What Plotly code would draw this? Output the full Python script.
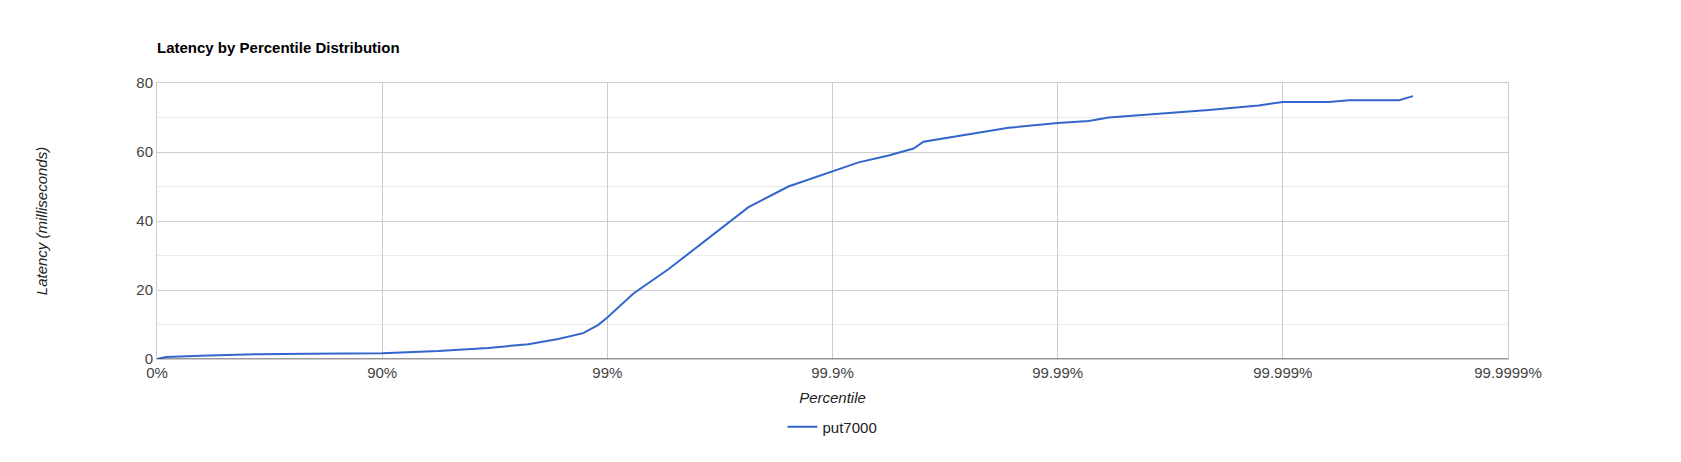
import plotly.graph_objects as go

# x in "nines" (log10(1/(1-p))), y latency ms
nines = [0.0, 0.04, 0.227, 0.449, 0.671, 1.0, 1.249, 1.471, 1.649, 1.782, 1.893, 1.96, 2.0,
         2.116, 2.271, 2.449, 2.627, 2.804, 3.0, 3.116, 3.249, 3.36, 3.404, 3.604, 3.782,
         4.0, 4.138, 4.227, 4.449, 4.671, 4.893, 5.0, 5.204, 5.293, 5.516, 5.578]
latency = [0.0, 0.6, 1.0, 1.4, 1.5, 1.7, 2.3, 3.2, 4.3, 5.8, 7.5, 9.9, 12,
           19, 26, 35, 44, 50, 54.5, 57, 59, 61, 63, 65, 67,
           68.4, 69, 70, 71, 72.2, 73.5, 74.5, 74.5, 75, 75, 76.2]
tick_vals = [0, 1, 2, 3, 4, 5, 6]
tick_text = ["0%", "90%", "99%", "99.9%", "99.99%", "99.999%", "99.9999%"]

fig = go.Figure(go.Scatter(x=nines, y=latency, mode="lines", name="put7000",
                           line=dict(color="#3366cc", width=2)))
fig.update_layout(
    width=1681, height=462, plot_bgcolor="white", paper_bgcolor="white",
    margin=dict(l=149, r=181, t=75, b=111, autoexpand=False),
    font=dict(family="Liberation Sans, Arial", size=15, color="#444"),
    title=dict(text="<b>Latency by Percentile Distribution</b>", x=149/1681, xanchor="left",
               y=1-40/462, yanchor="middle", font=dict(size=15, color="#000")),
    showlegend=True,
    legend=dict(orientation="h", x=0.5, xanchor="center", yref="container",
                y=1-419/462, yanchor="middle", font=dict(size=15, color="#222")),
    xaxis=dict(range=[0, 6], tickvals=tick_vals, ticktext=tick_text, showgrid=True,
               gridcolor="#cccccc", zeroline=False, showline=True, linecolor="#cccccc",
               mirror=True, ticks="", automargin=False,
               title=dict(text="<i>Percentile</i>", font=dict(size=15, color="#222"), standoff=12)),
    yaxis=dict(range=[0, 80], tickvals=[0, 20, 40, 60, 80], showgrid=True, gridcolor="#cccccc",
               zeroline=False, showline=True, linecolor="#cccccc", mirror=True, automargin=False,
               minor=dict(tickvals=[10, 30, 50, 70], showgrid=True, gridcolor="#ebebeb"),
               title=dict(text="<i>Latency (milliseconds)</i>", font=dict(size=15, color="#222"),
                          standoff=85)),
)
fig.add_shape(type="line", xref="paper", yref="y", x0=0, x1=1, y0=0, y1=0,
              line=dict(color="#333", width=1))
fig.write_html("out.html")
